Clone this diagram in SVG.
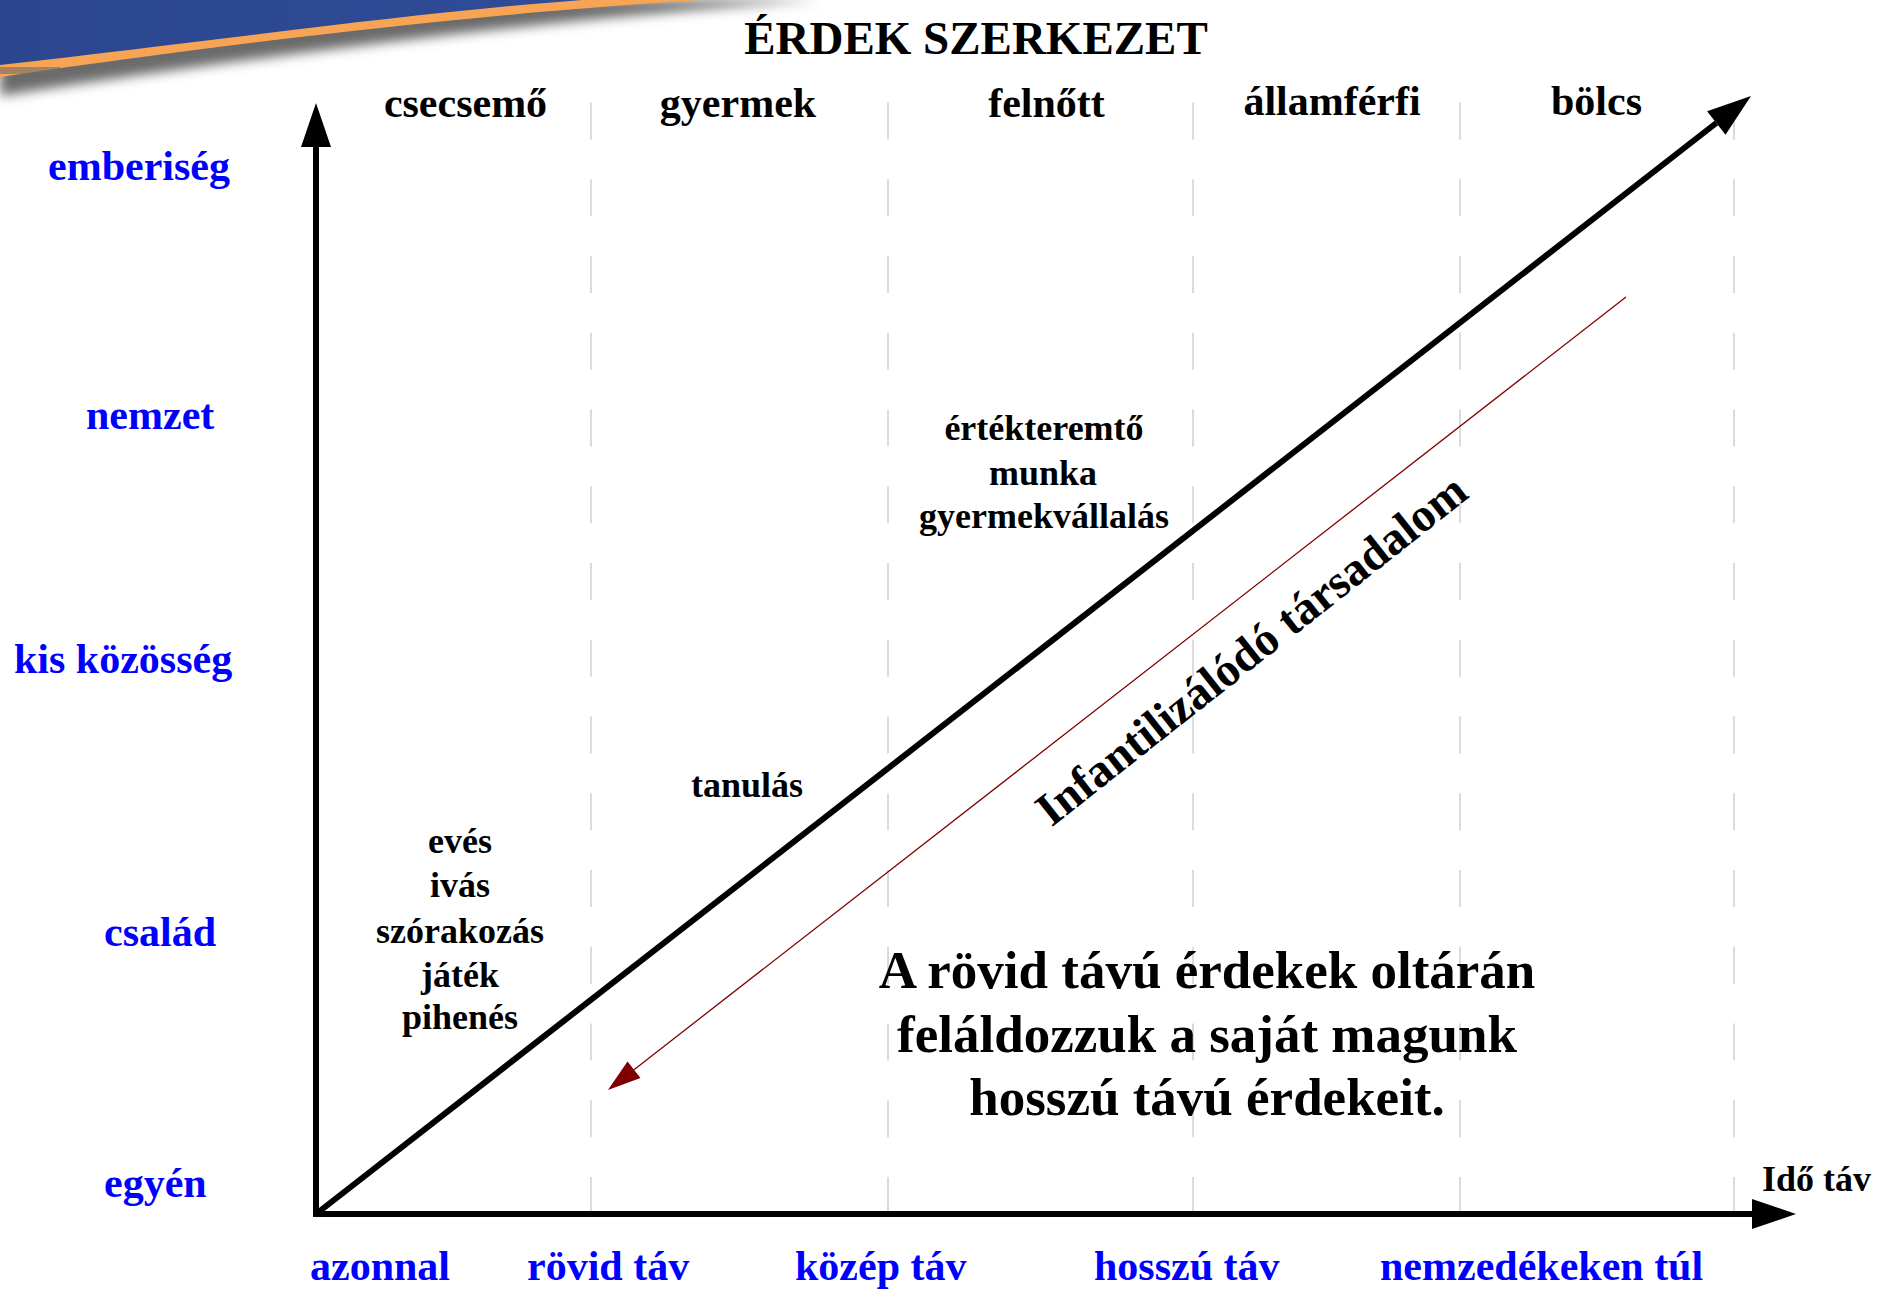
<svg xmlns="http://www.w3.org/2000/svg" width="1877" height="1290" viewBox="0 0 1877 1290">
<style>
.t{font-family:"Liberation Serif","Times New Roman",serif;font-weight:bold}
.blue{fill:#0000ff;font-size:42px}
.top{fill:#000;font-size:42px;text-anchor:middle}
.mid{fill:#000;font-size:36px;text-anchor:middle}
.big{fill:#000;font-size:53px;text-anchor:middle}
.grid{stroke:#cfcfcf;stroke-width:1.5;stroke-dasharray:37 39.75;fill:none}
.axis{stroke:#000;stroke-width:6;fill:none}
</style>
<defs>
<linearGradient id="blueg" x1="0" y1="0" x2="1" y2="0">
<stop offset="0" stop-color="#2c4690"/>
<stop offset="1" stop-color="#2f4c98"/>
</linearGradient>
<filter id="blur" x="-10%" y="-50%" width="120%" height="250%">
<feGaussianBlur stdDeviation="6"/>
</filter>
<marker id="ah" markerUnits="userSpaceOnUse" markerWidth="44" markerHeight="30" refX="0" refY="15" orient="auto" overflow="visible">
<path d="M0,0 L44,15 L0,30 Z" fill="#000"/>
</marker>
<marker id="ahr" markerUnits="userSpaceOnUse" markerWidth="33" markerHeight="21" refX="0" refY="10.5" orient="auto" overflow="visible">
<path d="M0,0 L33,10.5 L0,21 Z" fill="#7f0000"/>
</marker>
</defs>
<rect width="1877" height="1290" fill="#fff"/>

<g id="banner">
<path d="M0,0 L820,0 C560,18 270,54 0,96 Z" fill="#6a6a6a" filter="url(#blur)"/>
<path d="M0,0 L700,0 C500,12 250,40 0,77 Z" fill="#f7a554"/>
<rect x="0" y="67" width="60" height="7" fill="#6c6c6c" opacity="0.6"/>
<path d="M0,0 L582,0 C420,12 220,40 0,65 Z" fill="url(#blueg)"/>
</g>

<g id="grid">
<line class="grid" x1="591" y1="102.5" x2="591" y2="1214"/>
<line class="grid" x1="888" y1="102.5" x2="888" y2="1214"/>
<line class="grid" x1="1193" y1="102.5" x2="1193" y2="1214"/>
<line class="grid" x1="1460" y1="102.5" x2="1460" y2="1214"/>
<line class="grid" x1="1734" y1="102.5" x2="1734" y2="1214"/>
</g>

<g id="connectors">
<line class="axis" x1="316" y1="1214" x2="316" y2="147" stroke-linecap="square" marker-end="url(#ah)"/>
<line class="axis" x1="316" y1="1214" x2="1752" y2="1214" stroke-linecap="square" marker-end="url(#ah)"/>
<line class="axis" x1="316" y1="1214" x2="1716.3" y2="123" marker-end="url(#ah)"/>
<line x1="1626" y1="297" x2="634" y2="1069.7" stroke="#7f0000" stroke-width="1.3" marker-end="url(#ahr)"/>
</g>

<g id="title"><text class="t" x="976" y="54" font-size="47" text-anchor="middle">ÉRDEK SZERKEZET</text></g>

<g id="stage-csecsemo"><text class="t top" x="465.5" y="117">csecsemő</text></g>
<g id="stage-gyermek"><text class="t top" x="738" y="117">gyermek</text></g>
<g id="stage-felnott"><text class="t top" x="1046.5" y="117">felnőtt</text></g>
<g id="stage-allamferfi"><text class="t top" x="1332" y="115">államférfi</text></g>
<g id="stage-bolcs"><text class="t top" x="1596.5" y="115">bölcs</text></g>

<g id="y-emberiseg"><text class="t blue" x="48" y="180">emberiség</text></g>
<g id="y-nemzet"><text class="t blue" x="86" y="429">nemzet</text></g>
<g id="y-kiskozosseg"><text class="t blue" x="14" y="673">kis közösség</text></g>
<g id="y-csalad"><text class="t blue" x="104" y="946">család</text></g>
<g id="y-egyen"><text class="t blue" x="104" y="1197">egyén</text></g>

<g id="x-azonnal"><text class="t blue" x="310" y="1280">azonnal</text></g>
<g id="x-rovid"><text class="t blue" x="527" y="1280">rövid táv</text></g>
<g id="x-kozep"><text class="t blue" x="795" y="1280">közép táv</text></g>
<g id="x-hosszu"><text class="t blue" x="1094" y="1280">hosszú táv</text></g>
<g id="x-nemzedekeken"><text class="t blue" x="1380" y="1280">nemzedékeken túl</text></g>

<g id="x-axis-label"><text class="t" x="1762" y="1191" font-size="36" fill="#000">Idő táv</text></g>

<g id="activities-short">
<text class="t mid" x="460" y="853">evés</text>
<text class="t mid" x="460" y="897">ivás</text>
<text class="t mid" x="460" y="943">szórakozás</text>
<text class="t mid" x="460" y="987">játék</text>
<text class="t mid" x="460" y="1029">pihenés</text>
</g>
<g id="activity-tanulas"><text class="t mid" x="747" y="797">tanulás</text></g>
<g id="activities-adult">
<text class="t mid" x="1044" y="440">értékteremtő</text>
<text class="t mid" x="1043" y="485">munka</text>
<text class="t mid" x="1044" y="528">gyermekvállalás</text>
</g>

<g id="infantilizalodo"><text class="t" font-size="47" text-anchor="middle" transform="translate(1261,662) rotate(-38.3)">Infantilizálódó társadalom</text></g>

<g id="conclusion">
<text class="t big" x="1207" y="988">A rövid távú érdekek oltárán</text>
<text class="t big" x="1207" y="1052">feláldozzuk a saját magunk</text>
<text class="t big" x="1207" y="1115">hosszú távú érdekeit.</text>
</g>
</svg>
